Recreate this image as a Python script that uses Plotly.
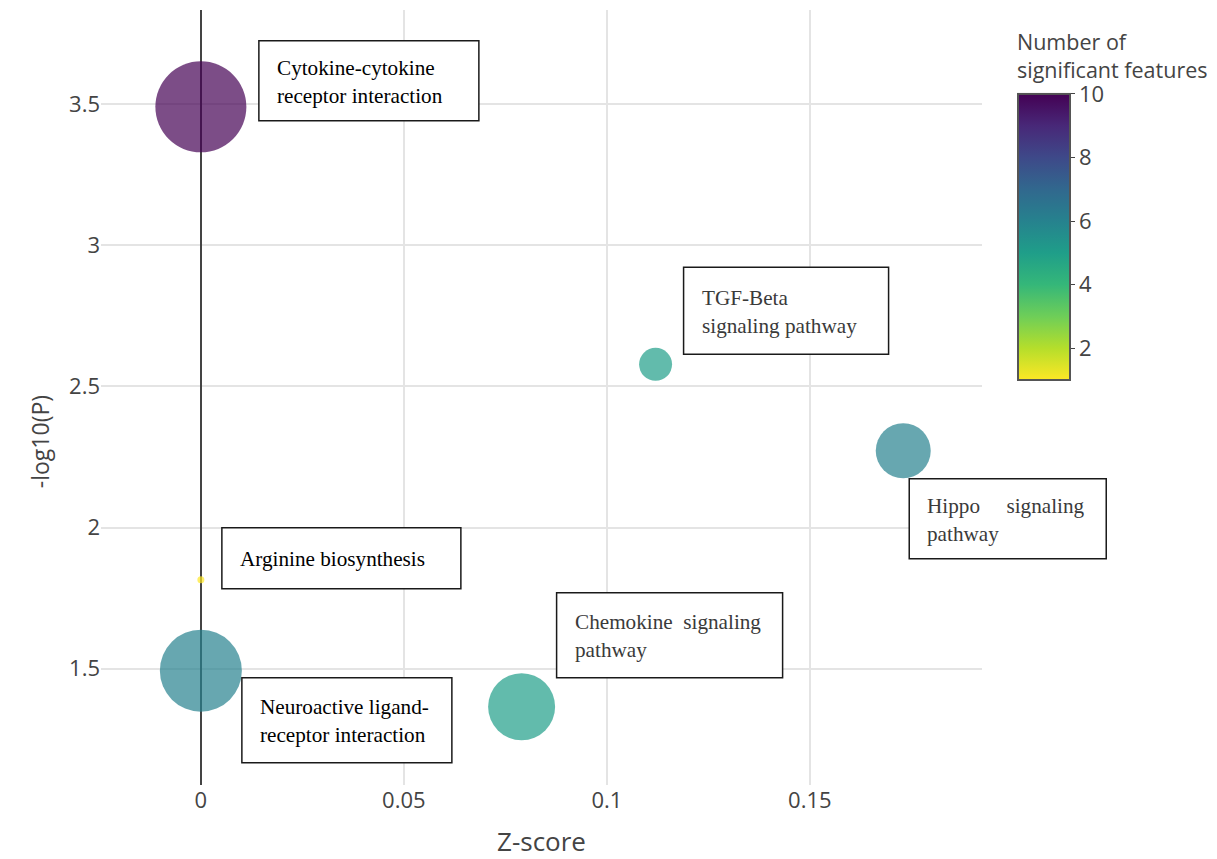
import plotly.graph_objects as go

# Enriched pathways
pathways = [
    "Cytokine-cytokine receptor interaction",
    "TGF-Beta signaling pathway",
    "Hippo signaling pathway",
    "Arginine biosynthesis",
    "Neuroactive ligand-receptor interaction",
    "Chemokine signaling pathway",
]
z_score = [0.0, 0.112, 0.173, 0.0, 0.0, 0.079]
neg_log10_p = [3.49, 2.578, 2.272, 1.815, 1.493, 1.365]
n_significant = [10, 5, 6, 1, 6, 5]
pathway_impact = [0.91, 0.33, 0.55, 0.07, 0.82, 0.67]

# Label text shown in each boxed callout
label_text = [
    "Cytokine-cytokine<br>receptor interaction",
    "TGF-Beta<br>signaling pathway",
    "Hippo&nbsp;&nbsp;&nbsp;&nbsp;&nbsp;signaling<br>pathway",
    "Arginine biosynthesis",
    "Neuroactive ligand-<br>receptor interaction",
    "Chemokine&nbsp;&nbsp;signaling<br>pathway",
]

# Callout box placement relative to its bubble (pixels): dx, dy (top, downward), width, height
box_layout = [
    (58, -66, 220, 80),
    (28, -97, 205, 87),
    (6, 28, 197, 80),
    (21, -52, 239, 61),
    (41, 7, 210, 85),
    (35, -114, 226, 85),
]
label_colors = ["#000000", "#3a3a3a", "#3a3a3a", "#000000", "#000000", "#3a3a3a"]

x_range = [-0.0246, 0.1924]
y_range = [1.088, 3.833]


def to_paper(v, rng):
    return (v - rng[0]) / (rng[1] - rng[0])


fig = go.Figure()

fig.add_trace(go.Scatter(
    x=z_score,
    y=neg_log10_p,
    mode="markers",
    text=pathways,
    hovertemplate="%{text}<br>Z-score: %{x}<br>-log10(P): %{y}<extra></extra>",
    marker=dict(
        size=pathway_impact,
        sizemode="diameter",
        sizeref=0.01,
        color=n_significant,
        colorscale="Viridis",
        reversescale=True,
        cmin=1,
        cmax=10,
        opacity=0.7,
        line=dict(width=0),
        colorbar=dict(
            title=dict(
                text="Number of<br>significant features",
                side="top",
                font=dict(family="Open Sans", size=21.5, color="#444"),
            ),
            tickvals=[2, 4, 6, 8, 10],
            tickfont=dict(family="Open Sans", size=22, color="#444"),
            ticks="outside",
            ticklen=4,
            tickcolor="#444",
            thickness=52,
            thicknessmode="pixels",
            len=392,
            lenmode="pixels",
            x=1.0397,
            xanchor="left",
            y=1.0,
            yanchor="top",
            xpad=0,
            ypad=22,
            outlinewidth=2,
            outlinecolor="#555",
        ),
    ),
    showlegend=False,
))

# Boxed callouts: boxes are placed in paper space (so they may spill past the plot edge)
shapes = []
annotations = []
for i in range(len(pathways)):
    dx, dy, w, h = box_layout[i]
    px = to_paper(z_score[i], x_range)
    py = to_paper(neg_log10_p[i], y_range)
    shapes.append(dict(
        type="rect",
        xref="paper", yref="paper",
        xsizemode="pixel", ysizemode="pixel",
        xanchor=px, yanchor=py,
        x0=dx, x1=dx + w,
        y0=-dy, y1=-(dy + h),
        line=dict(color="#1a1a1a", width=1.5),
        fillcolor="white",
        layer="above",
    ))
    annotations.append(dict(
        x=z_score[i], y=neg_log10_p[i],
        xref="x", yref="y",
        text=label_text[i],
        showarrow=False,
        xanchor="left", yanchor="middle",
        align="left",
        xshift=dx + 18,
        yshift=-(dy + h / 2) - 1,
        borderpad=0, borderwidth=0,
        font=dict(family="Liberation Serif", size=21.2, color=label_colors[i]),
    ))

# y-axis title
annotations.append(dict(
    x=-0.069, y=0.4426, xref="paper", yref="paper",
    text="-log10(P)", textangle=-90, showarrow=False,
    xanchor="center", yanchor="middle",
    font=dict(family="Open Sans", size=23, color="#444"),
))

fig.update_layout(
    width=1217,
    height=859,
    margin=dict(l=101, r=234, t=10, b=74),
    paper_bgcolor="white",
    plot_bgcolor="white",
    font=dict(family="Open Sans", color="#444"),
    shapes=shapes,
    annotations=annotations,
    xaxis=dict(
        title=dict(text="Z-score", font=dict(size=26, color="#444"), standoff=24),
        range=x_range,
        dtick=0.05,
        tick0=0,
        showgrid=True,
        gridcolor="#e4e4e4",
        gridwidth=2,
        zeroline=True,
        zerolinecolor="#444",
        zerolinewidth=2,
        showline=False,
        tickfont=dict(size=22, color="#444"),
        automargin=False,
    ),
    yaxis=dict(
        range=y_range,
        dtick=0.5,
        tick0=0,
        showgrid=True,
        gridcolor="#e4e4e4",
        gridwidth=2,
        zeroline=False,
        showline=False,
        tickfont=dict(size=22, color="#444"),
        automargin=False,
    ),
)

fig.write_html("out.html")
